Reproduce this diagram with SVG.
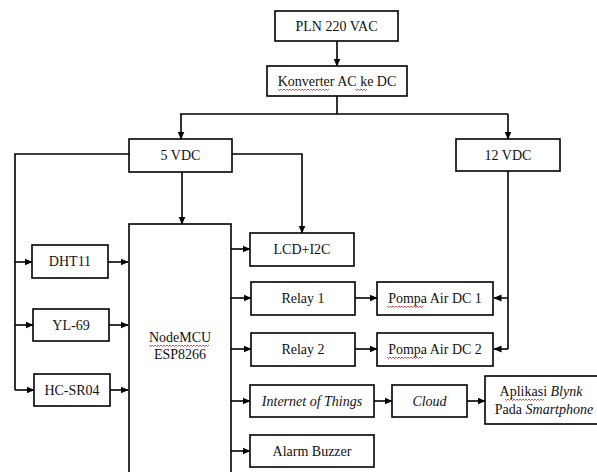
<svg xmlns="http://www.w3.org/2000/svg" width="597" height="472" viewBox="0 0 597 472">
<style>
.box{fill:#fff;stroke:#000;stroke-width:1.6}
.ln{fill:none;stroke:#000;stroke-width:1.6}
text{font-family:"Liberation Serif","Times New Roman",serif;font-size:14px;fill:#111;text-anchor:middle}
.it{font-style:italic}
.sq{fill:none;stroke:#d22;stroke-width:0.8}
</style>
<defs>
<marker id="ah" viewBox="0 0 8 8" refX="7.5" refY="4" markerWidth="8" markerHeight="8" markerUnits="userSpaceOnUse" orient="auto">
<path d="M0,0.5 L8,4 L0,7.5 Z" fill="#000"/>
</marker>
</defs>
<g id="connectors">
<path class="ln" d="M337,41 V66" marker-end="url(#ah)"/>
<path class="ln" d="M337,96 V114 M180,114 H508"/>
<path class="ln" d="M181,114 V139" marker-end="url(#ah)"/>
<path class="ln" d="M508,114 V139" marker-end="url(#ah)"/>
<path class="ln" d="M182,172 V224" marker-end="url(#ah)"/>
<path class="ln" d="M232,154 H302 V233" marker-end="url(#ah)"/>
<path class="ln" d="M129,154 H15 V390"/>
<path class="ln" d="M15,262 H32" marker-end="url(#ah)"/>
<path class="ln" d="M15,325 H33" marker-end="url(#ah)"/>
<path class="ln" d="M15,390 H34" marker-end="url(#ah)"/>
<path class="ln" d="M108,262 H128" marker-end="url(#ah)"/>
<path class="ln" d="M109,325 H128" marker-end="url(#ah)"/>
<path class="ln" d="M110,390 H128" marker-end="url(#ah)"/>
<path class="ln" d="M231,249 H250" marker-end="url(#ah)"/>
<path class="ln" d="M231,298 H251" marker-end="url(#ah)"/>
<path class="ln" d="M231,349 H251" marker-end="url(#ah)"/>
<path class="ln" d="M231,401 H250" marker-end="url(#ah)"/>
<path class="ln" d="M231,451 H250" marker-end="url(#ah)"/>
<path class="ln" d="M355,298 H377" marker-end="url(#ah)"/>
<path class="ln" d="M355,349 H377" marker-end="url(#ah)"/>
<path class="ln" d="M508,171 V349 M508,298 H494" marker-end="url(#ah)"/>
<path class="ln" d="M508,349 H494" marker-end="url(#ah)"/>
<path class="ln" d="M374,401 H392" marker-end="url(#ah)"/>
<path class="ln" d="M467,401 H485" marker-end="url(#ah)"/>
</g>
<g id="pln"><rect class="box" x="275" y="11" width="123" height="30"/><text x="336.5" y="31">PLN 220 VAC</text></g>
<g id="konverter"><rect class="box" x="267" y="66" width="140" height="30"/><text x="337" y="86">Konverter AC ke DC</text>
<path class="sq" d="M278,89 l1.5,1.5 l1.5,-1.5 l1.5,1.5 l1.5,-1.5 l1.5,1.5 l1.5,-1.5 l1.5,1.5 l1.5,-1.5 l1.5,1.5 l1.5,-1.5 l1.5,1.5 l1.5,-1.5 l1.5,1.5 l1.5,-1.5 l1.5,1.5 l1.5,-1.5 l1.5,1.5 l1.5,-1.5 l1.5,1.5 l1.5,-1.5 l1.5,1.5 l1.5,-1.5 l1.5,1.5 l1.5,-1.5 l1.5,1.5 l1.5,-1.5 l1.5,1.5 l1.5,-1.5 l1.5,1.5 l1.5,-1.5 l1.5,1.5 l1.5,-1.5 l1.5,1.5 l1.5,-1.5 M355,89 l1.5,1.5 l1.5,-1.5 l1.5,1.5 l1.5,-1.5 l1.5,1.5 l1.5,-1.5 l1.5,1.5 l1.5,-1.5"/></g>
<g id="v5"><rect class="box" x="129" y="139" width="103" height="33"/><text x="180.5" y="160">5 VDC</text></g>
<g id="v12"><rect class="box" x="456" y="139" width="104" height="32"/><text x="508" y="160">12 VDC</text></g>
<g id="nodemcu"><rect class="box" x="129" y="224" width="102" height="260"/><text x="180" y="342">NodeMCU</text><text x="180" y="359">ESP8266</text>
<path class="sq" d="M149,345 l1.5,1.5 l1.5,-1.5 l1.5,1.5 l1.5,-1.5 l1.5,1.5 l1.5,-1.5 l1.5,1.5 l1.5,-1.5 l1.5,1.5 l1.5,-1.5 l1.5,1.5 l1.5,-1.5 l1.5,1.5 l1.5,-1.5 l1.5,1.5 l1.5,-1.5 l1.5,1.5 l1.5,-1.5 l1.5,1.5 l1.5,-1.5 l1.5,1.5 l1.5,-1.5 l1.5,1.5 l1.5,-1.5 l1.5,1.5 l1.5,-1.5 l1.5,1.5 l1.5,-1.5 l1.5,1.5 l1.5,-1.5 l1.5,1.5 l1.5,-1.5 l1.5,1.5 l1.5,-1.5 l1.5,1.5 l1.5,-1.5 l1.5,1.5 l1.5,-1.5 l1.5,1.5 l1.5,-1.5"/></g>
<g id="dht11"><rect class="box" x="32" y="245" width="76" height="33"/><text x="70" y="266">DHT11</text></g>
<g id="yl69"><rect class="box" x="33" y="309" width="76" height="32"/><text x="71" y="330">YL-69</text></g>
<g id="hcsr04"><rect class="box" x="34" y="374" width="76" height="32"/><text x="72" y="395">HC-SR04</text></g>
<g id="lcd"><rect class="box" x="250" y="233" width="104" height="33"/><text x="302" y="254">LCD+I2C</text></g>
<g id="relay1"><rect class="box" x="251" y="282" width="104" height="33"/><text x="303" y="303">Relay 1</text></g>
<g id="relay2"><rect class="box" x="251" y="333" width="104" height="33"/><text x="303" y="354">Relay 2</text></g>
<g id="pompa1"><rect class="box" x="377" y="282" width="116" height="33"/><text x="435" y="303">Pompa Air DC 1</text>
<path class="sq" d="M387,306 l1.5,1.5 l1.5,-1.5 l1.5,1.5 l1.5,-1.5 l1.5,1.5 l1.5,-1.5 l1.5,1.5 l1.5,-1.5 l1.5,1.5 l1.5,-1.5 l1.5,1.5 l1.5,-1.5 l1.5,1.5 l1.5,-1.5 l1.5,1.5 l1.5,-1.5 l1.5,1.5 l1.5,-1.5 l1.5,1.5 l1.5,-1.5 l1.5,1.5 l1.5,-1.5 l1.5,1.5 l1.5,-1.5"/></g>
<g id="pompa2"><rect class="box" x="377" y="333" width="116" height="33"/><text x="435" y="354">Pompa Air DC 2</text>
<path class="sq" d="M387,357 l1.5,1.5 l1.5,-1.5 l1.5,1.5 l1.5,-1.5 l1.5,1.5 l1.5,-1.5 l1.5,1.5 l1.5,-1.5 l1.5,1.5 l1.5,-1.5 l1.5,1.5 l1.5,-1.5 l1.5,1.5 l1.5,-1.5 l1.5,1.5 l1.5,-1.5 l1.5,1.5 l1.5,-1.5 l1.5,1.5 l1.5,-1.5 l1.5,1.5 l1.5,-1.5 l1.5,1.5 l1.5,-1.5"/></g>
<g id="iot"><rect class="box" x="250" y="385" width="124" height="32"/><text class="it" x="312" y="406">Internet of Things</text></g>
<g id="cloud"><rect class="box" x="392" y="385" width="75" height="32"/><text class="it" x="429.5" y="406">Cloud</text></g>
<g id="aplikasi"><rect class="box" x="485" y="376" width="115" height="48"/><text x="541" y="396">Aplikasi <tspan class="it">Blynk</tspan></text><text x="544" y="414">Pada <tspan class="it">Smartphone</tspan></text>
<path class="sq" d="M505,399 l1.5,1.5 l1.5,-1.5 l1.5,1.5 l1.5,-1.5 l1.5,1.5 l1.5,-1.5 l1.5,1.5 l1.5,-1.5 l1.5,1.5 l1.5,-1.5 l1.5,1.5 l1.5,-1.5 l1.5,1.5 l1.5,-1.5 l1.5,1.5 l1.5,-1.5 l1.5,1.5 l1.5,-1.5 l1.5,1.5 l1.5,-1.5 l1.5,1.5 l1.5,-1.5 l1.5,1.5 l1.5,-1.5 l1.5,1.5 l1.5,-1.5"/></g>
<g id="alarm"><rect class="box" x="250" y="435" width="124" height="32"/><text x="312" y="456">Alarm Buzzer</text></g>
</svg>
